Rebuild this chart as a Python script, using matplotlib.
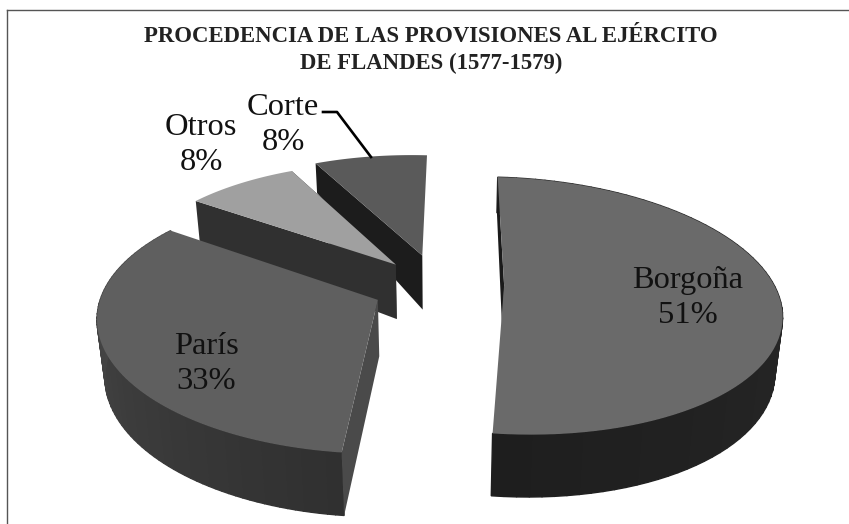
import numpy as np
import matplotlib
matplotlib.use('Agg')
import matplotlib.pyplot as plt

labels = ['Borgoña', 'París', 'Otros', 'Corte']
values = [51, 33, 8, 8]
top_colors = ['#6a6a6a', '#5f5f5f', '#a0a0a0', '#5a5a5a']
wall_a = [0x2f, 0x30, 0x2f, 0x1c]
wall_b = [0x1e, 0x4d, 0x2f, 0x1c]
start_colors = ['#1a1a1a', '#4a4a4a', '#303030', '#1c1c1c']
show_wall = [True, True, False, False]
explode = 0.245
nudge_x = [-1, 0, 1, -1]
nudge_y = [-4, 1, 1, -2]

# projection of the pie plane onto the picture (tilted view)
H = [269.66085, 72.9768, 438.50714, 6.32382, -79.01295, 286.45881, -0.00427, 0.15913]

fr = np.cumsum([0] + values) / sum(values) * 2 * np.pi
mids = (fr[:-1] + fr[1:]) / 2
off = explode * np.array([np.sin(mids), np.cos(mids)]).T

def proj(u, v):
    w = 1 + H[6] * u + H[7] * v
    return (H[0] * u + H[1] * v + H[2]) / w, (H[3] * u + H[4] * v + H[5]) / w

def drop(x, y, v):
    d = np.interp(v, [-1.1, 0.25, 0.9, 1.15], [63, 54, 40, 28])
    return x + (440 - x) * d * 0.0004, y + d

fig = plt.figure(figsize=(8.49, 5.24), dpi=100)
ax = fig.add_axes([0, 0, 1, 1])
ax.set_xlim(0, 849)
ax.set_ylim(524, 0)
ax.axis('off')

ax.plot([7.5, 7.5], [524, 10], color='#555555', lw=1.0)
ax.plot([7.5, 849], [10, 10], color='#555555', lw=1.0)

for i in [3, 2, 1, 0]:
    th = np.linspace(fr[i], fr[i + 1], 81)
    uo = off[i][0] + np.sin(th)
    vo = off[i][1] + np.cos(th)
    xo, yo = proj(uo, vo)
    xa, ya = proj(off[i][0], off[i][1])
    xo, yo = xo + nudge_x[i], yo + nudge_y[i]
    xa, ya = xa + nudge_x[i], ya + nudge_y[i]
    xbo, ybo = drop(xo, yo, vo)
    xba, yba = drop(xa, ya, off[i][1])
    # outer wall in short strips for the shading
    if show_wall[i]:
        for k in range(80):
            g = (wall_a[i] + (wall_b[i] - wall_a[i]) * k / 79) / 255
            ax.fill([xo[k], xo[k + 1], xbo[k + 1], xbo[k]], [yo[k], yo[k + 1], ybo[k + 1], ybo[k]],
                    color=(g, g, g), lw=1.0)
    # cut face, the other one is hidden behind the top
    ax.fill([xa, xo[0], xbo[0], xba], [ya, yo[0], ybo[0], yba], color=start_colors[i], lw=0)
    if i == 2:
        ax.fill([xa, xo[-1], xbo[-1], xba], [ya, yo[-1], ybo[-1], yba], color=start_colors[i], lw=0)
    # top
    ax.fill(np.r_[xa, xo], np.r_[ya, yo], color=top_colors[i], lw=0)

serif = 'Liberation Serif'
ax.text(431, 36, 'PROCEDENCIA DE LAS PROVISIONES AL EJÉRCITO', family=serif, weight='bold',
        fontsize=16.4, ha='center', va='center', color='#222222')
ax.text(431, 63, 'DE FLANDES (1577-1579)', family=serif, weight='bold',
        fontsize=16.4, ha='center', va='center', color='#222222')

label_x = [688, 206, 201, 283]
label_y = [298, 364, 145, 125]
for i in range(4):
    ax.text(label_x[i], label_y[i], f'{labels[i]}\n{values[i]}%', family=serif, fontsize=23.4,
            ha='center', va='center', linespacing=1.25, color='#111111')
ax.plot([323, 337, 371], [112, 112, 157], color='black', lw=1.9)

fig.savefig('out.png', dpi=100)
